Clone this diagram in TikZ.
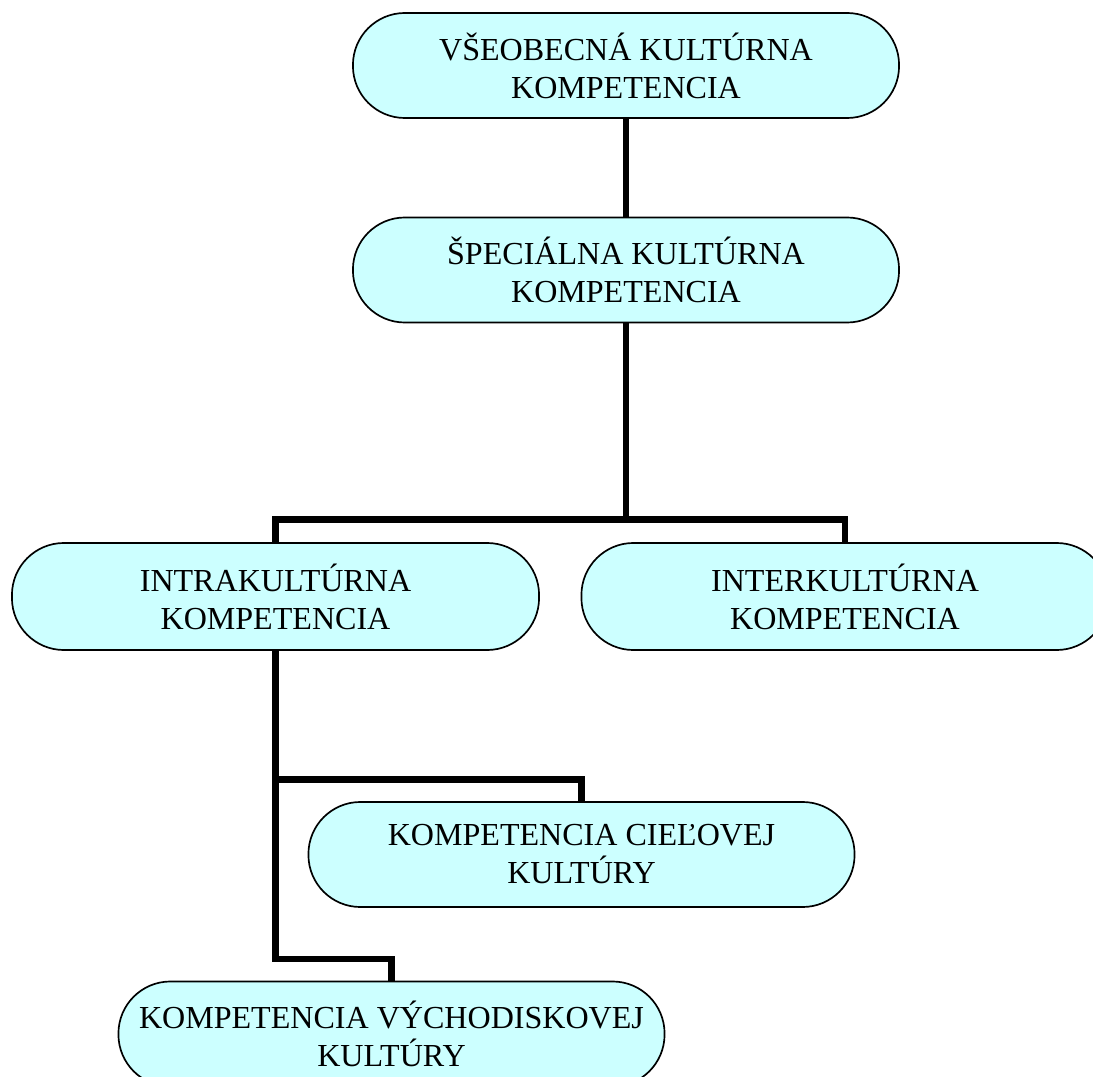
\documentclass[tikz,border=0pt]{standalone}
\usepackage{fontspec}
\setmainfont{Liberation Serif}
\definecolor{boxcyan}{RGB}{204,255,255}

\begin{document}
\begin{tikzpicture}[x=0.025cm, y=-0.025cm,
    kbox/.style={draw, line width=1.2pt, fill=boxcyan, rounded corners=1.3cm,
        minimum width=13.65cm, minimum height=2.625cm, inner sep=0pt,
        align=center, font=\fontsize{22.8}{27}\selectfont},
    kwide/.style={minimum width=13.175cm, minimum height=2.675cm},
    kline/.style={line width=4.3pt}]
    \path[use as bounding box, clip] (0,0) rectangle (1093,1077);

    \node[kbox] (vseob) at (626,65.5) {VŠEOBECNÁ KULTÚRNA\\KOMPETENCIA};
    \node[kbox] (spec) at (626,270) {ŠPECIÁLNA KULTÚRNA\\KOMPETENCIA};

    \node[kbox, kwide] (intra) at (275.5,596.5) {INTRAKULTÚRNA\\KOMPETENCIA};
    \node[kbox, kwide] (inter) at (845,596.5) {INTERKULTÚRNA\\KOMPETENCIA};

    \node[kbox] (ciel) at (581.5,854.5) {KOMPETENCIA CIEĽOVEJ\\KULTÚRY};
    \node[kbox] (vych) at (391.5,1034) {KOMPETENCIA VÝCHODISKOVEJ\\KULTÚRY};

    % branch points
    \coordinate (split1) at (626,519.5);
    \coordinate (split2) at (275.5,779.5);
    \coordinate (split3) at (275.5,959);

    \draw[kline] (vseob.south) -- (spec.north);
    \draw[kline] (spec.south) -- (split1);
    \draw[kline] (intra.north) |- (split1) -| (inter.north);

    \draw[kline] (intra.south) -- (split2) -| (ciel.north);
    \draw[kline] (split2) -- (split3) -| (vych.north);
\end{tikzpicture}
\end{document}
